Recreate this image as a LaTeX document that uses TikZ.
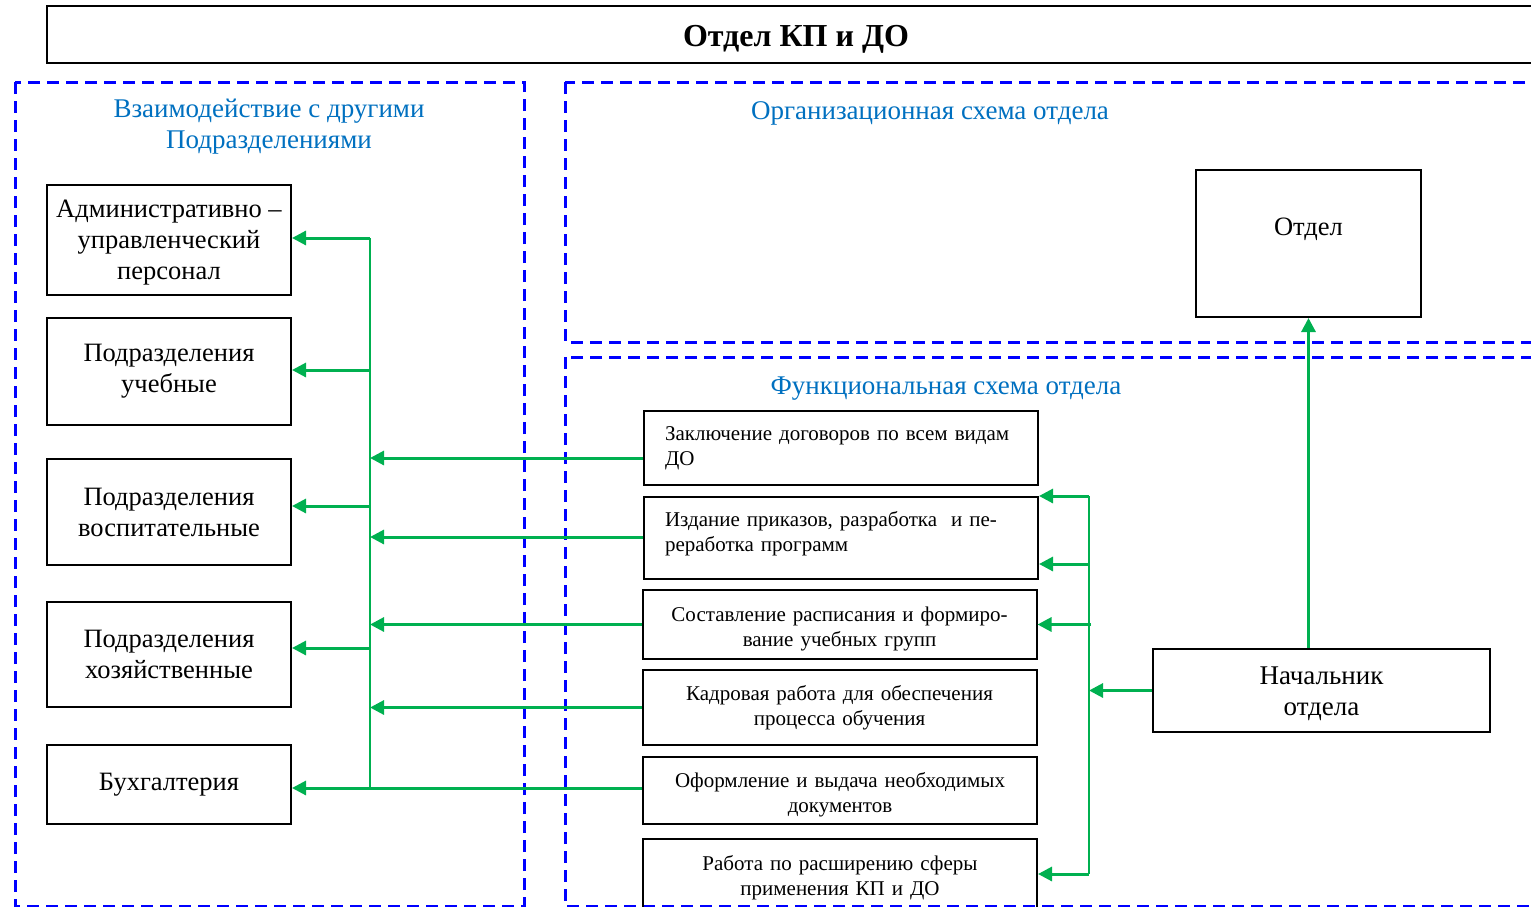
\documentclass[tikz,border=0pt]{standalone}
\usepackage{fontspec}
\setmainfont{Liberation Serif}
\usetikzlibrary{arrows.meta}
\definecolor{dblue}{RGB}{0,0,255}
\definecolor{tblue}{RGB}{0,112,192}
\definecolor{grn}{RGB}{0,176,80}
\newcommand\shiftedtext[3]{\raisebox{#1}[\height][\depth]{\begin{tabular}{@{}#2@{}}#3\end{tabular}}}
\begin{document}
\begin{tikzpicture}[x=1pt,y=-1pt,
 box/.style={draw=black, line width=2pt, inner sep=0pt, align=center, minimum width=244pt, font=\fontsize{26.5pt}{31pt}\selectfont},
 funcbox/.style={draw=black, line width=2pt, inner xsep=21pt, inner ysep=0pt, text width=352pt, font=\fontsize{21pt}{25pt}\selectfont},
 zone/.style={draw=dblue, line width=3pt, dash pattern=on 12pt off 7pt},
 ztitle/.style={text=tblue, align=center, font=\fontsize{27pt}{31pt}\selectfont},
 garr/.style={draw=grn, line width=3pt, -{Triangle[length=14pt,width=14pt]}},
 gline/.style={draw=grn, line width=2.2pt}]
\useasboundingbox (0,0) rectangle (1531,907);

% zones
\draw[zone] (15,82) rectangle (524,906);
\draw[zone] (565,82) rectangle (1545,342);
\draw[zone] (565,357) rectangle (1545,906);

% title
\node[draw=black, line width=2.5pt, minimum width=1498pt, minimum height=57pt, inner sep=0pt,
      font=\bfseries\fontsize{32pt}{36pt}\selectfont] (title) at (796,34.5) {\raisebox{-5pt}[\height][\depth]{Отдел КП и ДО}};

% zone titles
\node[ztitle] (t1) at (269,126.5) {Взаимодействие с другими\\Подразделениями};
\node[ztitle] (t2) at (930,113) {Организационная схема отдела};
\node[ztitle] (t3) at (946,389) {Функциональная схема отдела};

% left boxes
\node[box, minimum height=110pt] (adm) at (169,240) {\shiftedtext{-2pt}{c}{Административно –\\управленческий\\персонал}};
\node[box, minimum height=107pt] (uch) at (169,371.5) {Подразделения\\учебные};
\node[box, minimum height=106pt] (vos) at (169,512) {Подразделения\\воспитательные};
\node[box, minimum height=105pt] (hoz) at (169,654.5) {Подразделения\\хозяйственные};
\node[box, minimum height=79pt] (buh) at (169,784.5) {Бухгалтерия};

% functional boxes
\node[funcbox, align=left, minimum height=74pt] (f1) at (841,448) {Заключение договоров по всем видам\\ДО};
\node[funcbox, align=left, minimum height=82pt] (f2) at (841,538) {\shiftedtext{4pt}{l}{Издание приказов, разработка~ и пе-\\реработка программ}};
\node[funcbox, align=center, minimum height=69pt] (f3) at (839.5,624.5) {\shiftedtext{-4pt}{c}{Составление расписания и формиро-\\вание учебных групп}};
\node[funcbox, align=center, minimum height=75pt] (f4) at (839.5,707.5) {Кадровая работа для обеспечения\\процесса обучения};
\node[funcbox, align=center, minimum height=67pt] (f5) at (840,790.5) {\shiftedtext{-4pt}{c}{Оформление и выдача необходимых\\документов}};
\node[funcbox, align=center, minimum height=72pt] (f6) at (840,875) {\shiftedtext{-3pt}{c}{Работа по расширению сферы\\применения КП и ДО}};

% right boxes
\node[box, minimum width=337pt, minimum height=83pt, font=\fontsize{27pt}{31pt}\selectfont] (nach) at (1321.5,690.5) {\shiftedtext{-3pt}{c}{Начальник\\отдела}};
\node[box, minimum width=225pt, minimum height=147pt,
      label={[anchor=center, yshift=-60pt, font=\fontsize{26.5pt}{31pt}\selectfont]north:Отдел}] (otdel) at (1308.5,243.5) {};

% bus coordinates
\coordinate (lb) at (370,0);
\coordinate (rb) at (1089,0);

% left bus
\draw[gline] ([yshift=2pt]adm.east -| lb) -- ([yshift=4pt]f5.west -| lb);
\draw[garr] ([yshift=2pt]adm.east -| lb) -- ([yshift=2pt]adm.east);
\draw[garr] ([yshift=1.5pt]uch.east -| lb) -- ([yshift=1.5pt]uch.east);
\draw[garr] ([yshift=6pt]vos.east -| lb) -- ([yshift=6pt]vos.east);
\draw[garr] ([yshift=6.5pt]hoz.east -| lb) -- ([yshift=6.5pt]hoz.east);

% functional -> left bus
\draw[garr] ([yshift=-10pt]f1.west) -- ([yshift=-10pt]f1.west -| lb);
\draw[garr] ([yshift=1pt]f2.west) -- ([yshift=1pt]f2.west -| lb);
\draw[garr] (f3.west) -- (f3.west -| lb);
\draw[garr] (f4.west) -- (f4.west -| lb);
\draw[garr] ([yshift=2.5pt]f5.west) -- ([yshift=2.5pt]f5.west -| buh.east);

% right bus
\draw[gline] (f2.north east -| rb) -- ([yshift=1pt]f6.east -| rb);
\draw[garr] (f2.north east -| rb) -- (f2.north east);
\draw[garr] ([yshift=-26pt]f2.east -| rb) -- ([yshift=-26pt]f2.east);
\draw[garr] ([xshift=2pt]f3.east -| rb) -- (f3.east);
\draw[garr] ([yshift=1pt]f6.east -| rb) -- ([yshift=1pt]f6.east);
\draw[garr] (nach.west) -- (nach.west -| rb);

% chief -> department
\draw[garr] (nach.north -| otdel.south) -- (otdel.south);
\end{tikzpicture}
\end{document}
